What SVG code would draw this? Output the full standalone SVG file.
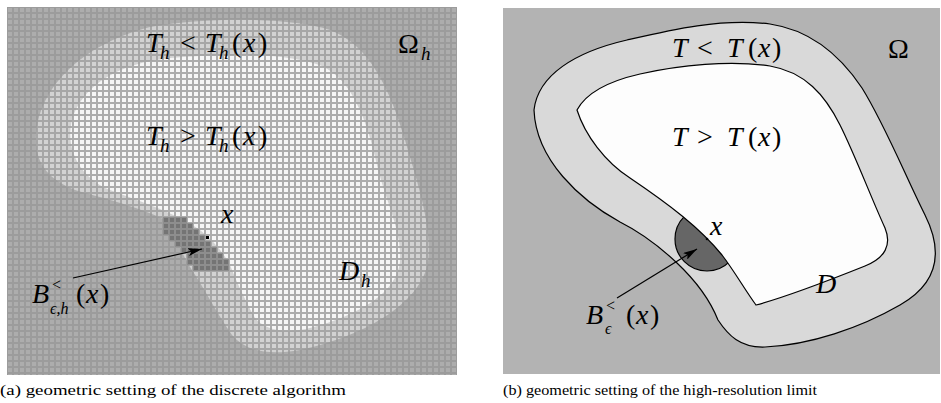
<svg xmlns="http://www.w3.org/2000/svg" width="941" height="403" viewBox="0 0 941 403">
<style>
.m{font-family:"Liberation Serif","Times New Roman",serif;font-size:28px;fill:#000}
.i{font-style:italic}
.s{font-size:19px}
.ss{font-size:16px}
.cap{font-family:"Liberation Serif","Times New Roman",serif;font-size:15px;fill:#000}
.bd{stroke:#000;stroke-width:1.2}
.arr{stroke:#000;stroke-width:1.2;fill:none;marker-end:url(#ah)}
</style>
<defs>
<pattern id="pOut" x="7" y="7" width="6" height="6" patternUnits="userSpaceOnUse"><rect width="6" height="6" fill="#9c9c9c"/><rect x="1" y="1" width="4" height="4" fill="#adadad"/></pattern>
<pattern id="pBand" x="7" y="7" width="6" height="6" patternUnits="userSpaceOnUse"><rect width="6" height="6" fill="#a6a6a6"/><rect x="1" y="1" width="4" height="4" fill="#d2d2d2"/></pattern>
<pattern id="pIn" x="7" y="7" width="6" height="6" patternUnits="userSpaceOnUse"><rect width="6" height="6" fill="#acacac"/><rect x="1" y="1" width="4" height="4" fill="#f6f6f6"/></pattern>
<pattern id="pBlob" x="7" y="7" width="6" height="6" patternUnits="userSpaceOnUse"><rect width="6" height="6" fill="#8e8e8e"/><rect x="1" y="1" width="4" height="4" fill="#747474"/></pattern>
<marker id="ah" viewBox="0 0 14 8" refX="14" refY="4" markerWidth="14" markerHeight="8" markerUnits="userSpaceOnUse" orient="auto"><path d="M0,0 L14,4 L0,8 L3,4 Z" fill="#000"/></marker>
</defs>
<rect width="941" height="403" fill="#fff"/>

<g id="panel-a">
  <rect id="omega-h" x="7" y="7" width="450" height="368" fill="url(#pOut)"/>
  <path id="band-h" fill="url(#pBand)" d="M 36,140 C 36,90 80,45 150,27 C 210,17 290,17 330,30 C 370,45 390,90 405,140 C 418,185 432,225 428,262 C 422,300 370,335 300,350 C 265,356 245,350 232,335 C 218,315 205,290 192,270 C 184,258 178,245 174,225 C 150,210 110,200 75,190 C 50,180 36,165 36,140 Z"/>
  <path id="inner-h" fill="url(#pIn)" d="M 72,120 C 82,85 120,63 170,58 C 230,53 290,53 322,66 C 352,80 367,120 377,165 C 385,200 402,230 400,262 C 397,292 360,315 310,328 C 285,334 265,330 255,318 C 245,300 238,285 230,265 C 222,250 212,240 200,230 C 175,212 135,200 105,188 C 80,175 65,150 72,120 Z"/>
  <path id="blob-h" fill="url(#pBlob)" d="M181,217h6v6h6v6h6v6h6v6h6v6h6v6h6v6h6v12h-36v-6h-6v-12h-6v-6h-6v-6h-6v-6h-6v-18h6z"/>
  <rect id="x-h" x="206" y="236" width="3" height="3" fill="#000"/>
  <text class="m"><tspan class="i" x="146" y="52">T</tspan><tspan class="i s" x="160" y="59">h</tspan><tspan x="180" y="52">&lt;</tspan><tspan class="i" x="205" y="52">T</tspan><tspan class="i s" x="219" y="59">h</tspan><tspan x="232" y="52">(</tspan><tspan class="i" x="243" y="52">x</tspan><tspan x="258" y="52">)</tspan></text>
  <text class="m"><tspan x="398" y="53">Ω</tspan><tspan class="i s" x="421" y="60">h</tspan></text>
  <text class="m"><tspan class="i" x="146" y="145">T</tspan><tspan class="i s" x="160" y="152">h</tspan><tspan x="180" y="145">&gt;</tspan><tspan class="i" x="205" y="145">T</tspan><tspan class="i s" x="219" y="152">h</tspan><tspan x="232" y="145">(</tspan><tspan class="i" x="243" y="145">x</tspan><tspan x="258" y="145">)</tspan></text>
  <text class="m i" x="221" y="223">x</text>
  <text class="m"><tspan class="i" x="339" y="280">D</tspan><tspan class="i s" x="361" y="287">h</tspan></text>
  <text class="m"><tspan class="i" x="32" y="303">B</tspan><tspan class="ss" x="52" y="290">&lt;</tspan><tspan class="i ss" x="50" y="314">ϵ,h</tspan><tspan x="76" y="303">(</tspan><tspan class="i" x="86" y="303">x</tspan><tspan x="100" y="303">)</tspan></text>
  <text class="cap" x="0" y="395" textLength="346" lengthAdjust="spacingAndGlyphs">(a) geometric setting of the discrete algorithm</text>
</g>

<g id="panel-b">
  <rect id="omega" x="503" y="8" width="437" height="366" fill="#b3b3b3"/>
  <path id="band" class="bd" fill="#d9d9d9" d="M 534,110 C 538,75 575,52 627,40 C 670,30 720,18 770,24 C 810,30 840,55 862,88 C 885,125 905,175 925,215 C 945,255 935,285 900,305 C 860,328 810,345 765,347 C 740,348 728,335 718,320 C 710,300 695,280 677,263 C 660,247 640,232 620,222 C 580,200 536,160 534,110 Z"/>
  <circle id="ball" class="bd" cx="707" cy="239" r="32" fill="#666"/>
  <path id="inner" class="bd" fill="#fdfdfd" d="M 577,110 C 585,95 605,82 640,74 C 680,65 730,60 770,66 C 805,72 825,95 840,125 C 855,155 870,195 885,228 C 892,245 885,258 865,266 C 830,280 790,296 756,305 C 745,290 735,272 722,255 C 700,228 670,205 630,178 C 605,162 585,135 577,110 Z"/>
  <circle id="x-pt" cx="707" cy="239" r="1.3" fill="#000"/>
  <text class="m"><tspan class="i" x="672" y="57">T</tspan><tspan x="697" y="57">&lt;</tspan><tspan class="i" x="727" y="57">T</tspan><tspan x="748" y="57">(</tspan><tspan class="i" x="758" y="57">x</tspan><tspan x="772" y="57">)</tspan></text>
  <text class="m"><tspan class="i" x="672" y="146">T</tspan><tspan x="697" y="146">&gt;</tspan><tspan class="i" x="727" y="146">T</tspan><tspan x="748" y="146">(</tspan><tspan class="i" x="758" y="146">x</tspan><tspan x="772" y="146">)</tspan></text>
  <text class="m" x="888" y="58">Ω</text>
  <text class="m i" x="710" y="235">x</text>
  <text class="m i" x="816" y="293">D</text>
  <text class="m"><tspan class="i" x="586" y="324">B</tspan><tspan class="ss" x="606" y="311">&lt;</tspan><tspan class="i ss" x="605" y="334">ϵ</tspan><tspan x="626" y="324">(</tspan><tspan class="i" x="636" y="324">x</tspan><tspan x="650" y="324">)</tspan></text>
  <text class="cap" x="503" y="395" textLength="314" lengthAdjust="spacingAndGlyphs">(b) geometric setting of the high-resolution limit</text>
</g>

<g id="connectors">
  <line class="arr" x1="73" y1="278" x2="202" y2="249"/>
  <line class="arr" x1="617" y1="298" x2="697" y2="249"/>
</g>
</svg>
